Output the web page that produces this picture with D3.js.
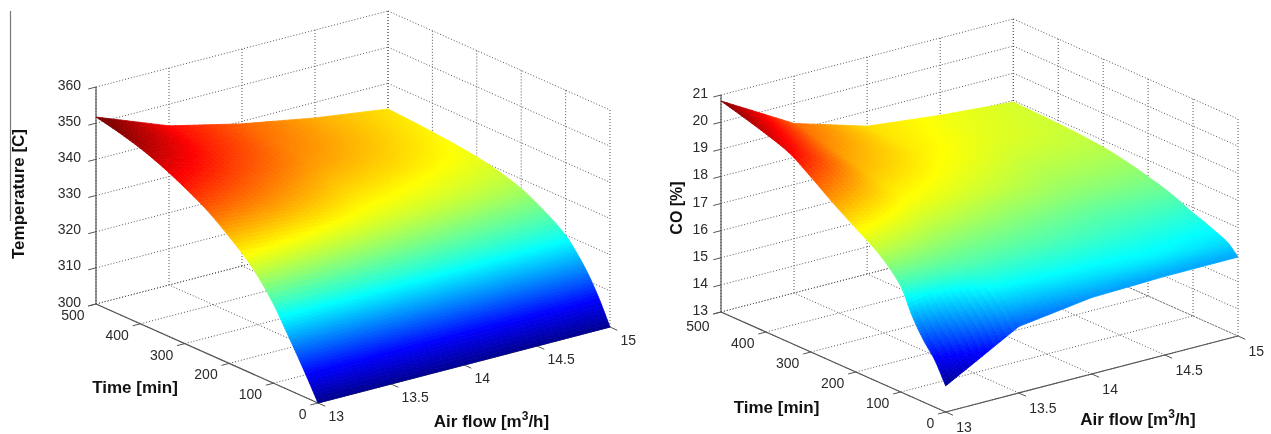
<!DOCTYPE html>
<html><head><meta charset="utf-8">
<script src="https://cdnjs.cloudflare.com/ajax/libs/d3/7.8.5/d3.min.js"></script>
<style>
html,body{margin:0;padding:0;background:#fff;overflow:hidden}
svg{display:block;filter:blur(0.4px)}
text{font-family:"Liberation Sans",Arial,sans-serif;fill:#2b2b2b}
.t{font-size:14px}
.b{font-size:17px;font-weight:bold;fill:#111}
</style></head><body>
<svg id="c" width="1271" height="434"></svg>
<script>
const airFlow=[13,13.5,14,14.5,15];
const airTicks=[13,13.5,14,14.5,15];
const timeRows=[0,25,50,75,100,150,200,250,300,350,400,450,500];
const timeTicks=[0,100,200,300,400,500];
const tempTicks=[300,310,320,330,340,350,360];
const coTicks=[13,14,15,16,17,18,19,20,21];
const temperature=[
[300,300,300,300,300],
[305.8,305.9,306.1,306.3,306.6],
[311.3,311.4,311.6,311.8,312.1],
[316.6,316.6,316.5,316.4,316.4],
[321.8,321.3,320.9,320.4,319.9],
[329.6,328,326.5,325.2,324.1],
[335,333,330.5,329,327.3],
[339.6,336.5,333,331.2,329.3],
[343.1,339,335,333,330.6],
[346.1,341,336.8,334.2,331.4],
[348.5,342.5,337.9,335,332],
[350.3,343.4,338.7,335.4,332.5],
[351.7,344,339.3,335.7,332.9]];
const co=[
[13.96,15.45,15.82,15.9,15.91],
[14.75,16.05,16.3,16.45,16.3],
[15.3,16.5,16.6,16.6,16.48],
[16,16.8,16.8,16.75,16.65],
[16.9,17.05,17,16.9,16.8],
[17.75,17.45,17.3,17.15,17.15],
[18.3,17.85,17.6,17.45,17.4],
[18.85,18.2,17.9,17.65,17.6],
[19.45,18.45,18.1,17.8,17.75],
[20,18.7,18.25,17.95,17.83],
[20.3,18.9,18.35,18.05,17.88],
[20.55,19.1,18.4,18.1,17.91],
[20.78,19.25,18.45,18.15,17.94]];
const tempColorLimits=[300,350.5];
const coColorLimits=[13.96,20.78];

const jetStops=[0,.125,.375,.625,.875,1];
const jetCols=["#000090","#0000ff","#00ffff","#ffff00","#ff0000","#800000"];

function hermite(col,r,f){
  const n=timeRows.length,T=timeRows;
  const slope=i=>{
    if(i<=0)return (col[1]-col[0])/(T[1]-T[0]);
    if(i>=n-1)return (col[n-1]-col[n-2])/(T[n-1]-T[n-2]);
    const a=(col[i]-col[i-1])/(T[i]-T[i-1]),b=(col[i+1]-col[i])/(T[i+1]-T[i]);
    return a*b<=0?0:2*a*b/(a+b);
  };
  const h=T[r+1]-T[r],f2=f*f,f3=f2*f;
  return (2*f3-3*f2+1)*col[r]+(f3-2*f2+f)*h*slope(r)+(-2*f3+3*f2)*col[r+1]+(f3-f2)*h*slope(r+1);
}

function panel(o){
  const svg=d3.select("#c").append("g");
  const ux=d3.scaleLinear().domain([13,15]).range([0,o.u[0]]);
  const uy=d3.scaleLinear().domain([13,15]).range([0,o.u[1]]);
  const vx=d3.scaleLinear().domain([0,500]).range([0,o.v[0]]);
  const vy=d3.scaleLinear().domain([0,500]).range([0,o.v[1]]);
  const wy=d3.scaleLinear().domain(o.zDomain).range([0,-o.h]);
  const P=(a,t,z)=>[o.o[0]+ux(a)+vx(t),o.o[1]+uy(a)+vy(t)+wy(z)];
  const z0=o.zDomain[0],z1=o.zDomain[1];
  const [cmin,cmax]=o.clim;
  const jet=d3.scaleLinear().domain(jetStops.map(s=>cmin+s*(cmax-cmin))).range(jetCols).clamp(true);
  const line=(a,b)=>({a,b});
  const g=[];
  o.zTicks.forEach(z=>{g.push(line(P(13,500,z),P(15,500,z)));g.push(line(P(15,500,z),P(15,0,z)));});
  airTicks.forEach(a=>{g.push(line(P(a,500,z0),P(a,500,z1)));g.push(line(P(a,0,z0),P(a,500,z0)));});
  timeTicks.forEach(t=>{g.push(line(P(15,t,z0),P(15,t,z1)));g.push(line(P(13,t,z0),P(15,t,z0)));});
  svg.append("g").selectAll("line").data(g).join("line")
    .attr("x1",d=>d.a[0]).attr("y1",d=>d.a[1]).attr("x2",d=>d.b[0]).attr("y2",d=>d.b[1])
    .attr("stroke","#555").attr("stroke-width",1).attr("stroke-dasharray","1 2");
  const ax=[line(P(13,500,z0),P(13,500,z1)),line(P(13,500,z0),P(13,0,z0)),line(P(13,0,z0),P(15,0,z0))];
  svg.append("g").selectAll("line").data(ax).join("line")
    .attr("x1",d=>d.a[0]).attr("y1",d=>d.a[1]).attr("x2",d=>d.b[0]).attr("y2",d=>d.b[1])
    .attr("stroke","#555").attr("stroke-width",1.2);
  const tk=[];
  const ulen=o.tick/Math.hypot(o.u[0],o.u[1]),vlen=o.tick/Math.hypot(o.v[0],o.v[1]);
  o.zTicks.forEach(z=>{const p=P(13,500,z);tk.push(line(p,[p[0]-o.u[0]*ulen,p[1]-o.u[1]*ulen]));});
  timeTicks.forEach(t=>{const p=P(13,t,z0);tk.push(line(p,[p[0]-o.u[0]*ulen,p[1]-o.u[1]*ulen]));});
  airTicks.forEach(a=>{const p=P(a,0,z0);tk.push(line(p,[p[0]-o.v[0]*vlen,p[1]-o.v[1]*vlen]));});
  svg.append("g").selectAll("line").data(tk).join("line")
    .attr("x1",d=>d.a[0]).attr("y1",d=>d.a[1]).attr("x2",d=>d.b[0]).attr("y2",d=>d.b[1])
    .attr("stroke","#555").attr("stroke-width",1);
  const cols=airFlow.map((_,c)=>o.values.map(row=>row[c]));
  const quads=[];
  const NT=8,NA=12;
  for(let r=timeRows.length-2;r>=0;r--)for(let st=NT-1;st>=0;st--){
    for(let c=0;c<airFlow.length-1;c++)for(let sa=0;sa<NA;sa++){
      const val=(fa,ft)=>{
        const a=hermite(cols[c],r,ft),b=hermite(cols[c+1],r,ft);
        return a+(b-a)*fa;};
      const pt=(fa,ft)=>P(airFlow[c]+(airFlow[c+1]-airFlow[c])*fa,timeRows[r]+(timeRows[r+1]-timeRows[r])*ft,val(fa,ft));
      const a0=sa/NA,a1=(sa+1)/NA,t0=st/NT,t1=(st+1)/NT;
      quads.push({p:[pt(a0,t0),pt(a1,t0),pt(a1,t1),pt(a0,t1)],v:val((a0+a1)/2,(t0+t1)/2)});
    }
  }
  svg.append("g").selectAll("polygon").data(quads).join("polygon")
    .attr("points",d=>d.p.map(q=>q.map(x=>x.toFixed(2)).join(",")).join(" "))
    .attr("fill",d=>jet(d.v)).attr("stroke",d=>jet(d.v)).attr("stroke-width",.8);
  const lab=svg.append("g");
  o.zTicks.forEach(z=>{const p=P(13,500,z);
    lab.append("text").attr("class","t").attr("text-anchor","end").attr("x",p[0]-o.zOff[0]).attr("y",p[1]+o.zOff[1]).text(z);});
  timeTicks.forEach(t=>{const p=P(13,t,z0);
    lab.append("text").attr("class","t").attr("text-anchor","end").attr("x",p[0]-11.5).attr("y",p[1]+(t===500?o.t500:16)).text(t);});
  airTicks.forEach(a=>{const p=P(a,0,z0);
    lab.append("text").attr("class","t").attr("x",p[0]+10.5).attr("y",p[1]+o.airOff).text(a);});
  lab.append("text").attr("class","b").attr("text-anchor","middle").attr("x",o.timeLab[0]).attr("y",o.timeLab[1]).text("Time [min]");
  const af=lab.append("text").attr("class","b").attr("text-anchor","middle").attr("x",o.airLab[0]).attr("y",o.airLab[1]);
  af.append("tspan").text("Air flow [m");
  af.append("tspan").attr("dy",-7).style("font-size","12px").text("3");
  af.append("tspan").attr("dy",7).text("/h]");
  lab.append("text").attr("class","b").attr("text-anchor","middle").style("font-size",o.zSize)
    .attr("transform",`translate(${o.zLab[0]},${o.zLab[1]}) rotate(-90)`).text(o.zTitle);
}
panel({o:[318,403],u:[292,-76],v:[-222,-99],h:217,zDomain:[300,360],zTicks:tempTicks,values:temperature,clim:tempColorLimits,tick:8,
  zOff:[15,2.5],airOff:18,t500:16,timeLab:[135,393],airLab:[491.5,427],zLab:[24,194],zTitle:"Temperature [C]",zSize:"17px"});
panel({o:[945.7,412],u:[292.3,-76],v:[-224.7,-100],h:217,zDomain:[13,21],zTicks:coTicks,values:co,clim:coColorLimits,tick:8,
  zOff:[13,3],airOff:20,t500:19,timeLab:[776.5,413],airLab:[1138,425],zLab:[682,208],zTitle:"CO [%]",zSize:"16px"});
d3.select("#c").append("line").attr("x1",10.5).attr("x2",10.5).attr("y1",11).attr("y2",221).attr("stroke","#777").attr("stroke-width",1.2);
</script>
</body></html>
